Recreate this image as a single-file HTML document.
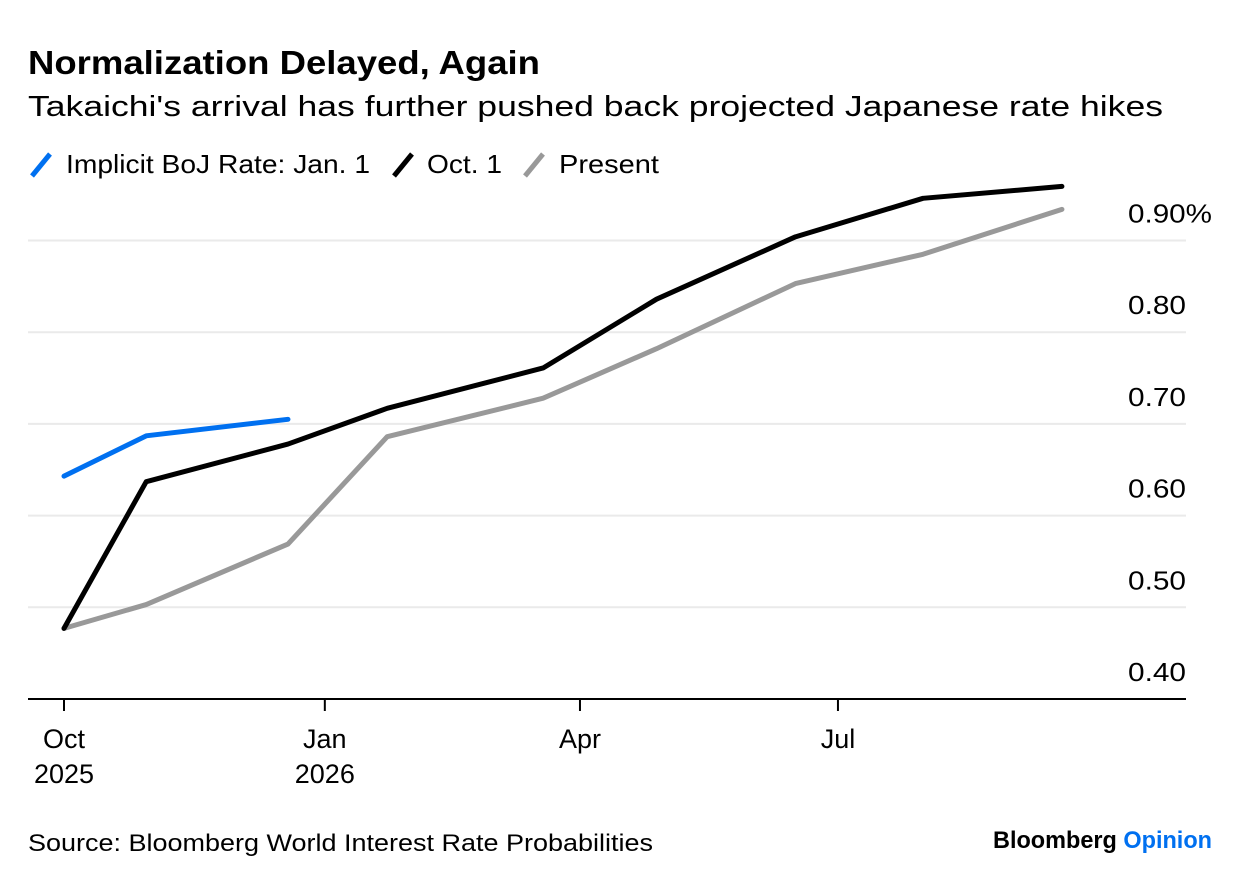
<!DOCTYPE html>
<html><head><meta charset="utf-8"><style>
body{margin:0;background:#fff;width:1240px;height:884px;overflow:hidden;font-family:"Liberation Sans",sans-serif;}
svg text{font-family:"Liberation Sans",sans-serif;}
</style></head><body>
<svg id="chart" width="1240" height="884">
<text x="28" y="74" font-size="33" font-weight="bold" fill="#000" textLength="512" lengthAdjust="spacingAndGlyphs">Normalization Delayed, Again</text>
<text x="28" y="116" font-size="29" fill="#000" textLength="1135" lengthAdjust="spacingAndGlyphs">Takaichi's arrival has further pushed back projected Japanese rate hikes</text>
<g>
<g><line x1="32" y1="176" x2="50" y2="154" stroke="#0070f0" stroke-width="5"/><text x="66" y="173" font-size="26" textLength="304" lengthAdjust="spacingAndGlyphs">Implicit BoJ Rate: Jan. 1</text></g>
<g><line x1="394" y1="176" x2="412" y2="154" stroke="#000" stroke-width="5"/><text x="427" y="173" font-size="26" textLength="75" lengthAdjust="spacingAndGlyphs">Oct. 1</text></g>
<g><line x1="525" y1="176" x2="543" y2="154" stroke="#999" stroke-width="5"/><text x="559" y="173" font-size="26" textLength="100" lengthAdjust="spacingAndGlyphs">Present</text></g>
</g>
<g id="grid"></g><g id="axes"></g><g id="series"></g>
<text x="28" y="851" font-size="24" textLength="625" lengthAdjust="spacingAndGlyphs">Source: Bloomberg World Interest Rate Probabilities</text>
<text x="993" y="848" font-size="24" font-weight="bold" textLength="219" lengthAdjust="spacingAndGlyphs"><tspan fill="#000">Bloomberg </tspan><tspan fill="#0070f0">Opinion</tspan></text>
</svg>
<script>
const yTicks=[0.4,0.5,0.6,0.7,0.8,0.9];
const yTickLabels=["0.40","0.50","0.60","0.70","0.80","0.90%"];
const xTickDays=[0,92,182,273];
const xTickLabels=[["Oct","2025"],["Jan","2026"],["Apr",""],["Jul",""]];
const jan1Days=[0,29,79];
const jan1Values=[0.643,0.687,0.705];
const oct1Days=[0,29,79,114,169,209,258,303,352];
const oct1Values=[0.477,0.637,0.678,0.717,0.761,0.836,0.904,0.946,0.959];
const presentDays=[0,29,79,114,169,209,258,303,352];
const presentValues=[0.477,0.503,0.569,0.686,0.728,0.782,0.853,0.885,0.934];

const NS="http://www.w3.org/2000/svg";
const x=d=>64+d*2.835;
const y=v=>699-(v-0.4)*917;
function mk(tag,attrs,parent){const e=document.createElementNS(NS,tag);for(const k in attrs)e.setAttribute(k,attrs[k]);document.getElementById(parent).appendChild(e);return e;}
yTicks.forEach((v,i)=>{
  if(i>0){const g=mk('line',{x1:28,x2:1186,y1:y(v),y2:y(v),stroke:'#eaeaea','stroke-width':2},'grid');
  
  }
  const t=mk('text',{x:1128,y:y(v)-18,'font-size':26,textLength:(i==5?84:58),lengthAdjust:'spacingAndGlyphs'},'axes');
  t.textContent=yTickLabels[i];
  
  
});
const base=mk('line',{x1:28,x2:1186,y1:y(0.4),y2:y(0.4),stroke:'#000','stroke-width':2},'axes');


xTickDays.forEach((d,i)=>{
  const tk=mk('line',{x1:x(d),x2:x(d),y1:y(0.4),y2:y(0.4)+12,stroke:'#000','stroke-width':2},'axes');
  
  
  xTickLabels[i].forEach((s,j)=>{if(!s)return;
    const t=mk('text',{x:x(d),y:748+j*35,'font-size':27,'text-anchor':'middle'},'axes');
    t.textContent=s;
    
    });
});
function line(days,vals,color,name){
  const p=mk('polyline',{points:days.map((d,i)=>x(d)+','+y(vals[i])).join(' '),fill:'none',stroke:color,'stroke-width':5,'stroke-linejoin':'round','stroke-linecap':'round'},'series');
  
  
}
line(presentDays,presentValues,'#999','present-line');
line(oct1Days,oct1Values,'#000','oct1-line');
line(jan1Days,jan1Values,'#0070f0','jan1-line');
</script>
</body></html>
